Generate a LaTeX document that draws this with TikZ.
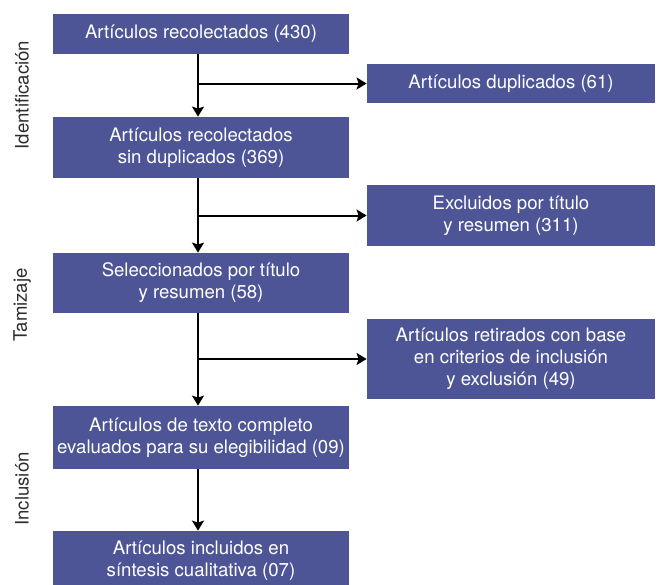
\documentclass[tikz,border=0pt]{standalone}
\usepackage{fontspec}
\setmainfont{TeX Gyre Heros}
\usetikzlibrary{arrows.meta}
\definecolor{cajazul}{RGB}{78,85,150}
\definecolor{gristexto}{RGB}{45,45,45}
\tikzset{
  font={\fontsize{9.3pt}{11pt}\selectfont}}

\begin{document}
\begin{tikzpicture}[x=0.5pt,y=-0.5pt]
\tikzstyle{every node}+=[inner sep=0pt]
\tikzstyle{caja}=[fill=cajazul, text=white, align=center, minimum width=148pt]
\tikzstyle{descarte}=[caja, minimum width=144pt]
\tikzstyle{etapa}=[rotate=90, text=gristexto]
\tikzstyle{flecha}=[line width=1pt, -{Stealth[length=5pt,width=6pt,inset=1pt]}]
\useasboundingbox (0,0) rectangle (661,585);
% columna principal
\node [caja, minimum height=20pt] (b1) at (201,34) {Artículos recolectados (430)};
\node [caja, minimum height=30.5pt] (b2) at (201,147.5) {Artículos recolectados\\ sin duplicados (369)};
\node [caja, minimum height=30pt] (b3) at (201,283) {Seleccionados por título\\ y resumen (58)};
\node [caja, minimum height=31.5pt] (b4) at (201,437.5) {Artículos de texto completo\\evaluados para su elegibilidad (09)};
\node [caja, minimum height=30pt] (b5) at (201,561) {Artículos incluidos en\\síntesis cualitativa (07)};
% columna de descartes
\node [descarte, minimum height=19.5pt] (d1) at (511,83.5) {Artículos duplicados (61)};
\node [descarte, minimum height=30.5pt] (d2) at (511,215.5) {Excluidos por título\\ y resumen (311)};
\node [descarte, minimum height=40pt] (d3) at (511,359) {Artículos retirados con base\\en criterios de inclusión\\ y exclusión (49)};
% etapas
\node [etapa] (e1) at (22,95) {Identificación};
\node [etapa] (e2) at (22,305) {Tamizaje};
\node [etapa] (e3) at (22,489) {Inclusión};
% flechas
\draw [flecha] ([xshift=-1.5pt]b1.south) -- ([xshift=-1.5pt]b2.north);
\draw [flecha] ([xshift=-1.5pt]b2.south) -- ([xshift=-1.5pt]b3.north);
\draw [flecha] ([xshift=-1.5pt]b3.south) -- ([xshift=-1.5pt]b4.north);
\draw [flecha] ([xshift=-1.5pt]b4.south) -- ([xshift=-1.5pt]b5.north);
\draw [flecha] ([xshift=-1.5pt]b1.south |- d1.west) -- (d1.west);
\draw [flecha] ([xshift=-1.5pt]b2.south |- d2.west) -- (d2.west);
\draw [flecha] ([xshift=-1.5pt]b3.south |- d3.west) -- (d3.west);
\end{tikzpicture}
\end{document}
